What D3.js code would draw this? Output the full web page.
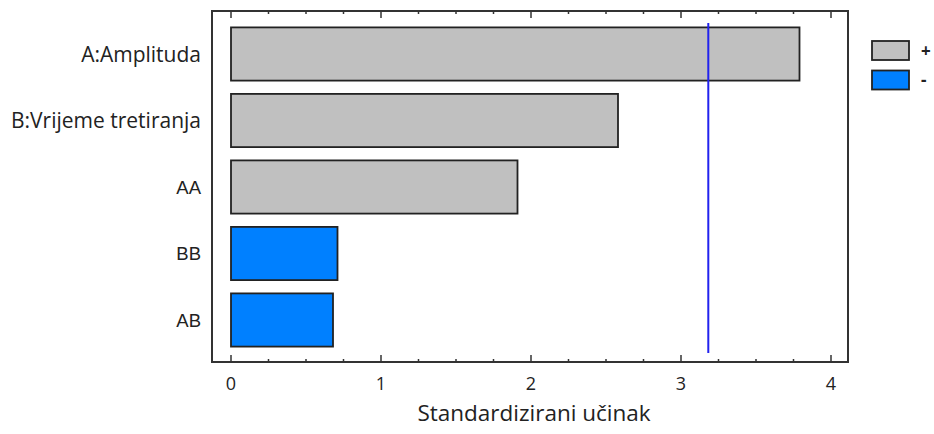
<!DOCTYPE html>
<html>
<head>
<meta charset="utf-8">
<script src="https://cdn.jsdelivr.net/npm/d3@7"></script>
<style>
  body { margin: 0; background: #fff; }
  svg text { font-family: "Open Sans", sans-serif; fill: #222; }
</style>
</head>
<body>
<svg id="chart" width="934" height="434"></svg>
<script>
// data
const factors = ["A:Amplituda", "B:Vrijeme tretiranja", "AA", "BB", "AB"];
const effects = [3.79, 2.58, 1.91, 0.71, 0.68];
const signs = ["+", "+", "+", "-", "-"];
const critical = 3.182;
const xTicks = [0, 1, 2, 3, 4];
const legendKeys = ["+", "-"];

const colors = { "+": "#c0c0c0", "-": "#0080ff" };

const svg = d3.select("#chart");
const frame = { left: 212, right: 848, top: 11, bottom: 362 };

const x = d3.scaleLinear().domain([0, 4]).range([231, 831]);
const y = d3.scaleBand().domain(factors).range([20.75, 353.25]).paddingInner(0.2).paddingOuter(0.1);

// frame
svg.append("rect")
  .attr("x", frame.left).attr("y", frame.top)
  .attr("width", frame.right - frame.left).attr("height", frame.bottom - frame.top)
  .attr("fill", "none").attr("stroke", "#333").attr("stroke-width", 2);

// ticks at top and bottom, pointing inward
const minor = d3.range(0, 4.001, 0.25);
minor.forEach(v => {
  const major = Math.abs(v - Math.round(v)) < 1e-6;
  const len = major ? 7 : 3;
  svg.append("line").attr("x1", x(v)).attr("x2", x(v))
    .attr("y1", frame.bottom).attr("y2", frame.bottom - len)
    .attr("stroke", "#333").attr("stroke-width", 1.5);
  svg.append("line").attr("x1", x(v)).attr("x2", x(v))
    .attr("y1", frame.top).attr("y2", frame.top + len)
    .attr("stroke", "#333").attr("stroke-width", 1.5);
});

svg.selectAll(".xlab").data(xTicks).join("text")
  .attr("class", "xlab")
  .attr("x", d => x(d)).attr("y", 390)
  .attr("text-anchor", "middle").style("font-size", "18px")
  .text(d => d);

// bars
svg.selectAll(".bar").data(factors).join("rect")
  .attr("class", "bar")
  .attr("x", x(0))
  .attr("y", d => y(d))
  .attr("width", (d, i) => x(effects[i]) - x(0))
  .attr("height", y.bandwidth())
  .attr("fill", (d, i) => colors[signs[i]])
  .attr("stroke", "#222").attr("stroke-width", 1.8);

// long names in one face, short interaction names in another, as in the picture
svg.selectAll(".ylab").data(factors).join("text")
  .attr("class", "ylab")
  .attr("x", 201)
  .attr("y", d => y(d) + y.bandwidth() / 2)
  .attr("dy", "0.36em")
  .attr("text-anchor", "end")
  .style("font-family", d => d.length > 2 ? "'Open Sans', sans-serif" : "'Liberation Sans', Arial, sans-serif")
  .style("font-size", d => d.length > 2 ? "21px" : "18.5px")
  .text(d => d);

// critical value line
svg.append("line")
  .attr("x1", x(critical)).attr("x2", x(critical))
  .attr("y1", 23).attr("y2", 353)
  .attr("stroke", "#2222ee").attr("stroke-width", 2);

// axis title
svg.append("text")
  .attr("x", 534).attr("y", 421)
  .attr("text-anchor", "middle").style("font-size", "22.5px")
  .text("Standardizirani učinak");

// legend
const legend = svg.selectAll(".leg").data(legendKeys).join("g")
  .attr("class", "leg")
  .attr("transform", (d, i) => `translate(872,${41 + i * 29.5})`);
legend.append("rect")
  .attr("width", 37).attr("height", 19)
  .attr("fill", d => colors[d]).attr("stroke", "#222").attr("stroke-width", 1.8);
legend.append("text")
  .attr("x", 49).attr("y", 10).attr("dy", "0.35em")
  .attr("text-anchor", "start").style("font-size", "17px").style("font-weight", "bold")
  .text(d => d);
</script>
</body>
</html>
